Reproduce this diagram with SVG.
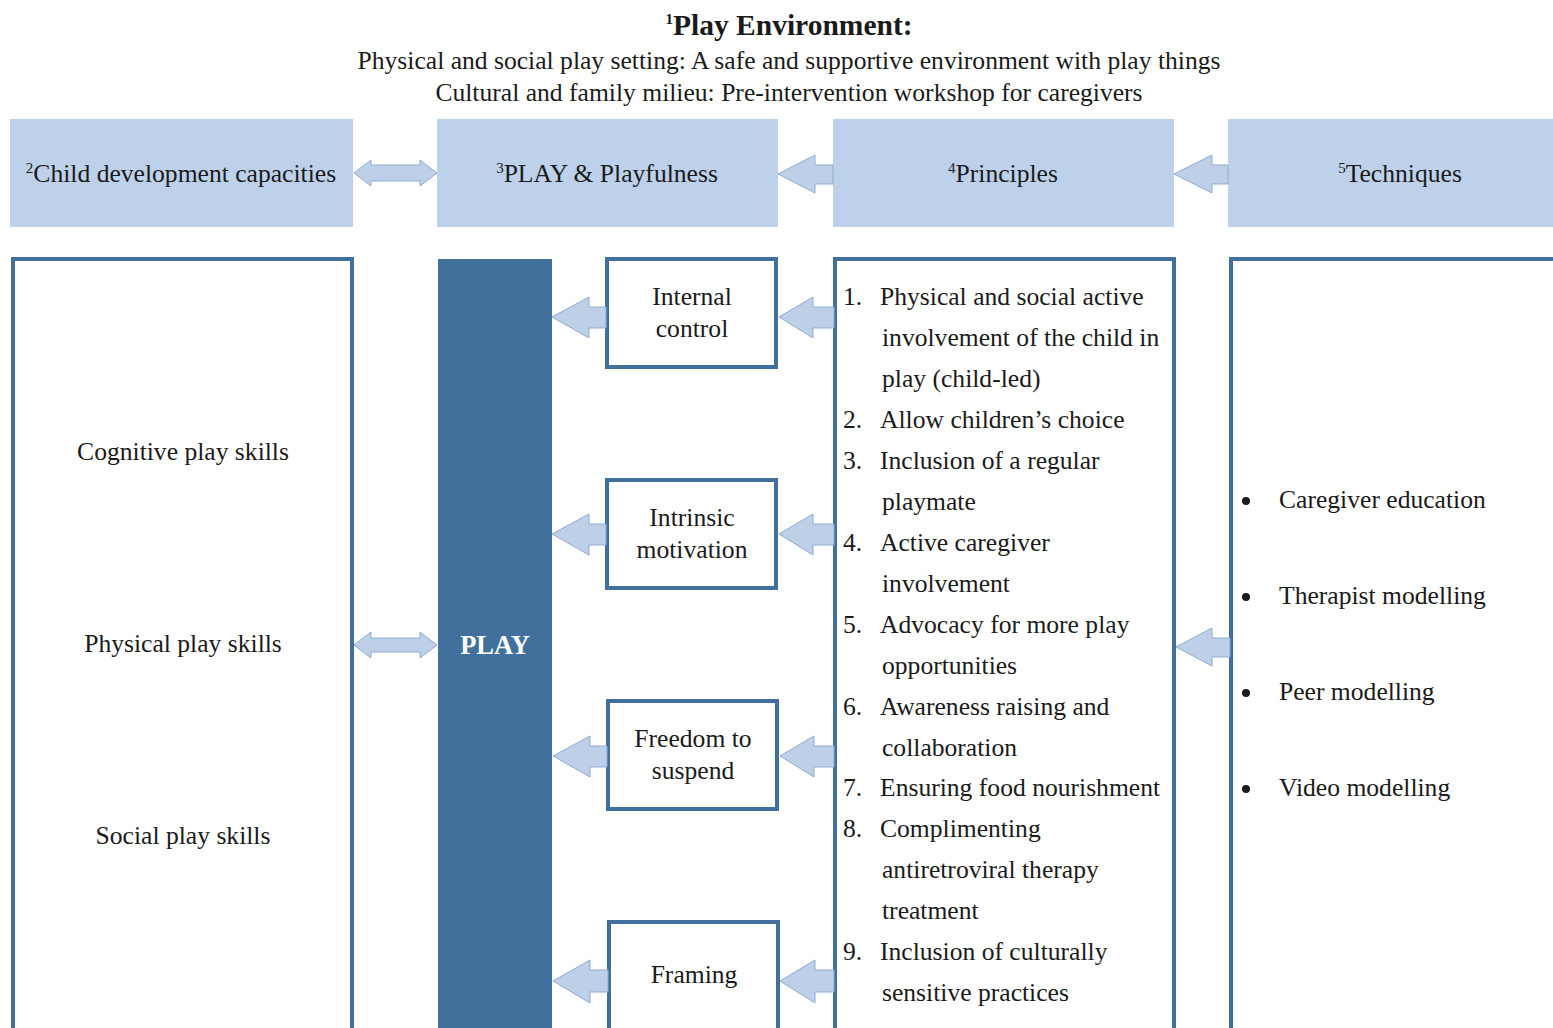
<svg xmlns="http://www.w3.org/2000/svg" width="1553" height="1028" viewBox="0 0 1553 1028">
  <style>
    text { font-family: "Liberation Serif", "Times New Roman", serif; fill: #1a1a1a; font-size: 25.6px; }
    .c { text-anchor: middle; }
    .title { font-size: 29.5px; font-weight: bold; }
    .sup { font-size: 15px; }
    .head { fill: #bdd1ea; }
    .frame { fill: #ffffff; stroke: #41709c; stroke-width: 4; }
    .bar { fill: #41709c; }
    .arrow { fill: #bed0e8; stroke: #8eabd4; stroke-width: 1; }
    .play { fill: #ffffff; font-weight: bold; font-size: 26.5px; }
  </style>

  <!-- play environment heading -->
  <g id="environment">
    <text class="c title" x="789" y="35"><tspan class="sup" dy="-11">1</tspan><tspan dy="11">Play Environment:</tspan></text>
    <text class="c" x="789" y="69">Physical and social play setting: A safe and supportive environment with play things</text>
    <text class="c" x="789" y="101">Cultural and family milieu: Pre-intervention workshop for caregivers</text>
  </g>

  <!-- column headers -->
  <g id="hdr-capacities">
    <rect class="head" x="10" y="119" width="343" height="108"/>
    <text class="c" x="181" y="182"><tspan class="sup" dy="-9">2</tspan><tspan dy="9">Child development capacities</tspan></text>
  </g>
  <g id="hdr-play">
    <rect class="head" x="437" y="119" width="341" height="108"/>
    <text class="c" x="607" y="182"><tspan class="sup" dy="-9">3</tspan><tspan dy="9">PLAY &amp; Playfulness</tspan></text>
  </g>
  <g id="hdr-principles">
    <rect class="head" x="833" y="119" width="341" height="108"/>
    <text class="c" x="1003" y="182"><tspan class="sup" dy="-9">4</tspan><tspan dy="9">Principles</tspan></text>
  </g>
  <g id="hdr-techniques">
    <rect class="head" x="1228" y="119" width="344" height="108"/>
    <text class="c" x="1400" y="182"><tspan class="sup" dy="-9">5</tspan><tspan dy="9">Techniques</tspan></text>
  </g>

  <!-- child development capacities -->
  <g id="capacities">
    <rect class="frame" x="13" y="259" width="339" height="800"/>
    <text class="c" x="183" y="460">Cognitive play skills</text>
    <text class="c" x="183" y="652">Physical play skills</text>
    <text class="c" x="183" y="844">Social play skills</text>
  </g>

  <!-- play column -->
  <g id="play">
    <rect class="bar" x="438" y="259" width="114" height="800"/>
    <text class="c play" x="495" y="654">PLAY</text>
  </g>

  <!-- playfulness elements -->
  <g id="internal-control">
    <rect class="frame" x="607" y="259" width="169" height="108"/>
    <text class="c" x="692" y="305">Internal</text>
    <text class="c" x="692" y="337">control</text>
  </g>
  <g id="intrinsic-motivation">
    <rect class="frame" x="607" y="480" width="169" height="108"/>
    <text class="c" x="692" y="526">Intrinsic</text>
    <text class="c" x="692" y="558">motivation</text>
  </g>
  <g id="freedom-to-suspend">
    <rect class="frame" x="608" y="701" width="169" height="108"/>
    <text class="c" x="693" y="747">Freedom to</text>
    <text class="c" x="693" y="779">suspend</text>
  </g>
  <g id="framing">
    <rect class="frame" x="609" y="922" width="169" height="140"/>
    <text class="c" x="694" y="983">Framing</text>
  </g>

  <!-- principles list -->
  <g id="principles">
    <rect class="frame" x="835" y="259" width="339" height="800"/>
    <text x="843" y="305">1.</text><text x="880" y="305">Physical and social active</text>
    <text x="882" y="346">involvement of the child in</text>
    <text x="882" y="387">play (child-led)</text>
    <text x="843" y="428">2.</text><text x="880" y="428">Allow children’s choice</text>
    <text x="843" y="469">3.</text><text x="880" y="469">Inclusion of a regular</text>
    <text x="882" y="510">playmate</text>
    <text x="843" y="551">4.</text><text x="880" y="551">Active caregiver</text>
    <text x="882" y="592">involvement</text>
    <text x="843" y="633">5.</text><text x="880" y="633">Advocacy for more play</text>
    <text x="882" y="674">opportunities</text>
    <text x="843" y="715">6.</text><text x="880" y="715">Awareness raising and</text>
    <text x="882" y="756">collaboration</text>
    <text x="843" y="796">7.</text><text x="880" y="796">Ensuring food nourishment</text>
    <text x="843" y="837">8.</text><text x="880" y="837">Complimenting</text>
    <text x="882" y="878">antiretroviral therapy</text>
    <text x="882" y="919">treatment</text>
    <text x="843" y="960">9.</text><text x="880" y="960">Inclusion of culturally</text>
    <text x="882" y="1001">sensitive practices</text>
  </g>

  <!-- techniques list -->
  <g id="techniques">
    <rect class="frame" x="1231" y="259" width="400" height="800"/>
    <circle cx="1246" cy="501" r="4" fill="#1a1a1a"/><text x="1279" y="508">Caregiver education</text>
    <circle cx="1246" cy="597" r="4" fill="#1a1a1a"/><text x="1279" y="604">Therapist modelling</text>
    <circle cx="1246" cy="693" r="4" fill="#1a1a1a"/><text x="1279" y="700">Peer modelling</text>
    <circle cx="1246" cy="789" r="4" fill="#1a1a1a"/><text x="1279" y="796">Video modelling</text>
  </g>

  <!-- connectors -->
  <g id="connectors">
    <!-- header row -->
    <path class="arrow" d="M354,173 L371,160 L371,165 L420,165 L420,160 L437,173 L420,186 L420,181 L371,181 L371,186 Z"/>
    <path class="arrow" d="M778,174 L815,155 L815,165 L833,165 L833,184 L815,184 L815,193 Z"/>
    <path class="arrow" d="M1174,174 L1212,155 L1212,165 L1228,165 L1228,184 L1212,184 L1212,193 Z"/>
    <!-- capacities <-> play -->
    <path class="arrow" d="M354,645 L371,632 L371,638 L420,638 L420,632 L437,645 L420,658 L420,652 L371,652 L371,658 Z"/>
    <!-- playfulness elements -> play -->
    <path class="arrow" d="M552,317 L589,297 L589,307 L606,307 L606,328 L589,328 L589,338 Z"/>
    <path class="arrow" d="M552,534 L589,514 L589,524 L606,524 L606,545 L589,545 L589,555 Z"/>
    <path class="arrow" d="M553,756 L590,736 L590,746 L607,746 L607,767 L590,767 L590,777 Z"/>
    <path class="arrow" d="M553,981 L590,960 L590,970 L608,970 L608,992 L590,992 L590,1003 Z"/>
    <!-- principles -> playfulness elements -->
    <path class="arrow" d="M779,317 L813,297 L813,307 L834,307 L834,328 L813,328 L813,338 Z"/>
    <path class="arrow" d="M779,534 L813,514 L813,524 L834,524 L834,545 L813,545 L813,555 Z"/>
    <path class="arrow" d="M780,756 L814,736 L814,746 L834,746 L834,767 L814,767 L814,777 Z"/>
    <path class="arrow" d="M780,981 L815,960 L815,970 L834,970 L834,992 L815,992 L815,1003 Z"/>
    <!-- techniques -> principles -->
    <path class="arrow" d="M1176,647 L1212,628 L1212,638 L1230,638 L1230,657 L1212,657 L1212,666 Z"/>
  </g>
</svg>
